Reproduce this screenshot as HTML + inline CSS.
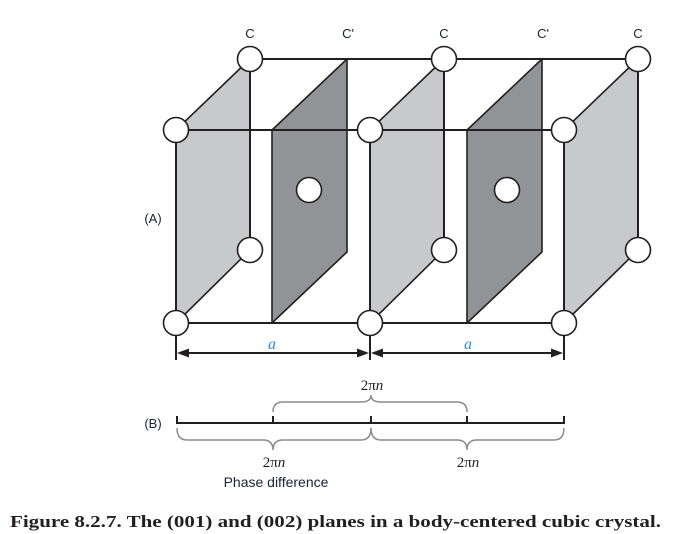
<!DOCTYPE html>
<html><head><meta charset="utf-8"><style>
html,body{margin:0;padding:0;background:#fff;}
svg{display:block;}
</style></head><body>
<svg width="679" height="534" viewBox="0 0 679 534" xmlns="http://www.w3.org/2000/svg">
<g stroke="#231f20" stroke-width="1.6" stroke-linejoin="round">
  <polygon points="176,130 250,59 250,250 176,323" fill="#c8c9cb"/>
  <polygon points="370,130 444,59 444,250 370,323" fill="#c8c9cb"/>
  <polygon points="564,130 638,59 638,250 564,323" fill="#c8c9cb"/>
  <polygon points="272,130 347,59 347,252 272,323" fill="#929396"/>
  <polygon points="467,130 542,59 542,252 467,323" fill="#929396"/>
</g>
<g stroke="#231f20" stroke-width="2" fill="none">
  <line x1="250" y1="59" x2="638" y2="59"/>
  <line x1="176" y1="130" x2="564" y2="130"/>
  <line x1="176" y1="323" x2="564" y2="323"/>
  <line x1="176" y1="130" x2="176" y2="323"/>
  <line x1="370" y1="130" x2="370" y2="323"/>
  <line x1="564" y1="130" x2="564" y2="323"/>
  <line x1="250" y1="59" x2="250" y2="250"/>
  <line x1="444" y1="59" x2="444" y2="250"/>
  <line x1="638" y1="59" x2="638" y2="250"/>
</g>
<g fill="#fff" stroke="#231f20" stroke-width="1.6">
  <circle cx="250" cy="59" r="12.5"/>
  <circle cx="444" cy="59" r="12.5"/>
  <circle cx="638" cy="59" r="12.5"/>
  <circle cx="176" cy="130" r="12.5"/>
  <circle cx="370" cy="130" r="12.5"/>
  <circle cx="564" cy="130" r="12.5"/>
  <circle cx="250" cy="250" r="12.5"/>
  <circle cx="444" cy="250" r="12.5"/>
  <circle cx="638" cy="250" r="12.5"/>
  <circle cx="176" cy="323" r="12.5"/>
  <circle cx="370" cy="323" r="12.5"/>
  <circle cx="564" cy="323" r="12.5"/>
  <circle cx="309" cy="190" r="12.5"/>
  <circle cx="507" cy="190" r="12.5"/>
</g>
<g font-family="Liberation Sans, sans-serif" font-size="13" fill="#1c2233" text-anchor="middle">
  <text x="250" y="38">C</text>
  <text x="444" y="38">C</text>
  <text x="638" y="38">C</text>
  <text x="348" y="38">C'</text>
  <text x="543" y="38">C'</text>
  <text x="153" y="223">(A)</text>
  <text x="153" y="428">(B)</text>
  <text x="276" y="487" font-size="14">Phase difference</text>
</g>
<!-- dimension -->
<g stroke="#231f20" stroke-width="2">
  <line x1="176" y1="336" x2="176" y2="360"/>
  <line x1="370" y1="336" x2="370" y2="360"/>
  <line x1="564" y1="336" x2="564" y2="360"/>
  <line x1="180" y1="353" x2="366" y2="353"/>
  <line x1="374" y1="353" x2="560" y2="353"/>
</g>
<g fill="#231f20">
  <polygon points="177,353 189,348.5 189,357.5"/>
  <polygon points="369,353 357,348.5 357,357.5"/>
  <polygon points="371,353 383,348.5 383,357.5"/>
  <polygon points="563,353 551,348.5 551,357.5"/>
</g>
<g font-family="Liberation Serif, serif" font-style="italic" font-size="16" fill="#2f8ad8" text-anchor="middle">
  <text x="272" y="349">a</text>
  <text x="468" y="349">a</text>
</g>
<!-- part B -->
<g stroke="#231f20" stroke-width="2">
  <line x1="177" y1="423" x2="564" y2="423"/>
  <line x1="177" y1="416" x2="177" y2="424"/>
  <line x1="273" y1="416" x2="273" y2="424"/>
  <line x1="371" y1="416" x2="371" y2="424"/>
  <line x1="467" y1="416" x2="467" y2="424"/>
  <line x1="564" y1="416" x2="564" y2="424"/>
</g>
<g stroke="#8a8b8d" stroke-width="1.5" fill="none">
  <path d="M273,412 Q273,402 283,402 L361,402 Q371,402 371,395 Q371,402 381,402 L457,402 Q467,402 467,412"/>
  <path d="M177,428 Q177,440 187,440 L263,440 Q273,440 273,450 Q273,440 283,440 L361,440 Q371,440 371,428"/>
  <path d="M371,428 Q371,440 381,440 L457,440 Q467,440 467,450 Q467,440 477,440 L554,440 Q564,440 564,428"/>
</g>
<g font-family="Liberation Serif, serif" font-size="15" fill="#231f20" text-anchor="middle">
  <text x="372" y="390">2π<tspan font-style="italic">n</tspan></text>
  <text x="274" y="467">2π<tspan font-style="italic">n</tspan></text>
  <text x="468" y="467">2π<tspan font-style="italic">n</tspan></text>
</g>
<text x="10" y="527" font-family="Liberation Serif, serif" font-weight="bold" font-size="17" fill="#231f20" textLength="651" lengthAdjust="spacingAndGlyphs">Figure 8.2.7. The (001) and (002) planes in a body-centered cubic crystal.</text>
</svg>
</body></html>
